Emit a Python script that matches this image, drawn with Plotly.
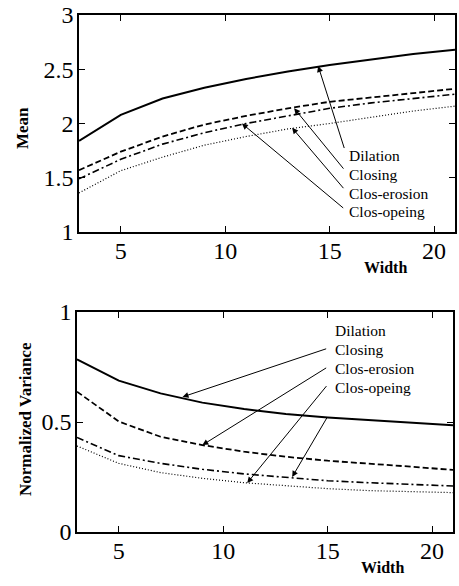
import plotly.graph_objects as go

width = [3, 5, 7, 9, 11, 13, 15, 17, 19, 21]

mean_dilation = [1.84, 2.08, 2.23, 2.33, 2.41, 2.48, 2.54, 2.59, 2.64, 2.68]
mean_closing = [1.57, 1.74, 1.88, 1.99, 2.07, 2.14, 2.20, 2.24, 2.28, 2.32]
mean_clos_erosion = [1.49, 1.67, 1.81, 1.915, 2.00, 2.07, 2.14, 2.19, 2.23, 2.27]
mean_clos_opening = [1.36, 1.565, 1.69, 1.80, 1.88, 1.95, 2.00, 2.06, 2.115, 2.16]

var_dilation = [0.785, 0.688, 0.630, 0.588, 0.559, 0.536, 0.521, 0.509, 0.497, 0.485]
var_closing = [0.638, 0.502, 0.433, 0.395, 0.365, 0.342, 0.324, 0.312, 0.297, 0.282]
var_clos_erosion = [0.430, 0.347, 0.312, 0.285, 0.264, 0.247, 0.233, 0.224, 0.215, 0.209]
var_clos_opening = [0.391, 0.312, 0.270, 0.244, 0.224, 0.209, 0.197, 0.188, 0.183, 0.179]

labels = ["Dilation", "Closing", "Clos-erosion", "Clos-opeing"]
styles = [("solid", 2.0), ("6px,3px", 1.8), ("7px,3px,2px,3px", 1.6), ("1px,2px", 1.2)]

FONT = "Liberation Serif"

fig = go.Figure()
for vals, (dash, w), name in zip([mean_dilation, mean_closing, mean_clos_erosion, mean_clos_opening], styles, labels):
    fig.add_trace(go.Scatter(x=width, y=vals, mode="lines", name=name,
                             line=dict(color="black", dash=dash, width=w),
                             xaxis="x", yaxis="y", showlegend=False))
for vals, (dash, w), name in zip([var_dilation, var_closing, var_clos_erosion, var_clos_opening], styles, labels):
    fig.add_trace(go.Scatter(x=width, y=vals, mode="lines", name=name,
                             line=dict(color="black", dash=dash, width=w),
                             xaxis="x2", yaxis="y2", showlegend=False))

W, H = 459, 586
def px(x):
    return x / W
def py(y):
    return 1 - y / H

axis_common = dict(showline=True, linecolor="black", linewidth=1.5, mirror="ticks",
                   ticks="inside", ticklen=6, tickwidth=1.2, tickcolor="black",
                   showgrid=False, zeroline=False, automargin=False,
                   tickfont=dict(family=FONT, size=24, color="black"))

fig.update_layout(
    width=W, height=H,
    margin=dict(l=0, r=0, t=0, b=0, pad=0),
    paper_bgcolor="white", plot_bgcolor="white",
    xaxis=dict(domain=[px(79), px(455)], range=[3, 21], tickvals=[5, 10, 15, 20],
               anchor="y", ticklabelstandoff=-4, **axis_common),
    yaxis=dict(domain=[py(232), py(15)], range=[1, 3], tickvals=[1, 1.5, 2, 2.5, 3],
               anchor="x", ticklabelstandoff=-1, **axis_common),
    xaxis2=dict(domain=[px(77), px(453)], range=[3, 21], tickvals=[5, 10, 15, 20],
                anchor="y2", ticklabelstandoff=-4, **axis_common),
    yaxis2=dict(domain=[py(532), py(312)], range=[0, 1], tickvals=[0, 0.5, 1],
                anchor="x2", ticklabelstandoff=-1, **axis_common),
)

annots = []
# axis titles
annots.append(dict(text="<b>Mean</b>", x=px(22), y=py(128), xref="paper", yref="paper",
                   xanchor="center", yanchor="middle", textangle=-90, showarrow=False,
                   font=dict(family=FONT, size=17, color="black")))
annots.append(dict(text="<b>Width</b>", x=px(385), y=py(268), xref="paper", yref="paper",
                   xanchor="center", yanchor="middle", showarrow=False,
                   font=dict(family=FONT, size=16, color="black")))
annots.append(dict(text="<b>Normalized Variance</b>", x=px(25), y=py(419), xref="paper", yref="paper",
                   xanchor="center", yanchor="middle", textangle=-90, showarrow=False,
                   font=dict(family=FONT, size=17, color="black")))
annots.append(dict(text="<b>Width</b>", x=px(382), y=py(567), xref="paper", yref="paper",
                   xanchor="center", yanchor="middle", showarrow=False,
                   font=dict(family=FONT, size=16, color="black")))

# label text positions (paper pixels)
top_label_y = [155, 174, 193, 211]
bot_label_y = [330, 349, 368, 387]
label_font = dict(family=FONT, size=15.5, color="black")
for lab, yy in zip(labels, top_label_y):
    annots.append(dict(text=lab, x=px(347), y=py(yy), xref="paper", yref="paper",
                       xanchor="left", yanchor="middle", showarrow=False, font=label_font))
for lab, yy in zip(labels, bot_label_y):
    annots.append(dict(text=lab, x=px(333), y=py(yy), xref="paper", yref="paper",
                       xanchor="left", yanchor="middle", showarrow=False, font=label_font))

# arrows: (head x, head y, tail x, tail y) in data coords
top_arrows = [(14.45, 2.53, 15.72, 1.76),
              (13.3, 2.14, 15.72, 1.57),
              (13.2, 1.96, 15.72, 1.39),
              (10.8, 2.00, 15.72, 1.21)]
bot_arrows = [(8.05, 0.614, 15.0, 0.835),
              (9.0, 0.395, 15.0, 0.75),
              (11.15, 0.223, 15.0, 0.67),
              (13.3, 0.25, 15.0, 0.525)]
for hx, hy, tx, ty in top_arrows:
    annots.append(dict(text="", x=hx, y=hy, ax=tx, ay=ty, xref="x", yref="y",
                       axref="x", ayref="y", showarrow=True, arrowhead=2,
                       arrowsize=1.2, arrowwidth=1, arrowcolor="black", standoff=0))
for hx, hy, tx, ty in bot_arrows:
    annots.append(dict(text="", x=hx, y=hy, ax=tx, ay=ty, xref="x2", yref="y2",
                       axref="x2", ayref="y2", showarrow=True, arrowhead=2,
                       arrowsize=1.2, arrowwidth=1, arrowcolor="black", standoff=0))

fig.update_layout(annotations=annots)
fig.write_html("out.html")
